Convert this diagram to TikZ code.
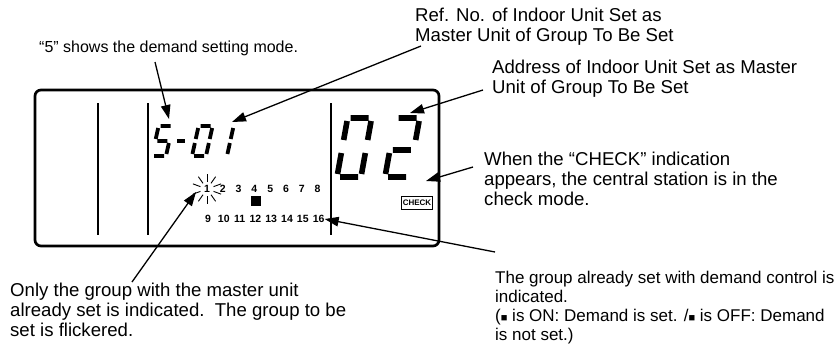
\documentclass[tikz,border=0pt]{standalone}
\usepackage{fontspec}
\setmainfont{Liberation Sans}
\usetikzlibrary{arrows.meta,positioning}
\tikzset{
    note/.style={anchor=north west,inner sep=0pt,align=left,font=\fontsize{18.6}{20}\selectfont},
    small note/.style={note,font=\fontsize{17}{19}\selectfont},
    callout/.style={line width=1.3pt,-{Triangle[length=14pt,width=9.5pt]}},
    lcd seg/.style={line width=3.8pt},
    lcd big/.style={line width=5.6pt},
    divider/.style={line width=1.1pt},
    grpnum/.style={inner sep=0pt,font=\bfseries\fontsize{10.5}{10.5}\selectfont},
    flick/.style={line width=0.9pt}
}

\begin{document}
\begin{tikzpicture}[x=1pt,y=-1pt]
        \useasboundingbox (0,0) rectangle (839,349);

        % notes round the display
        \node[note] (refnote) at (415,8) {Ref. No. of Indoor Unit Set as\\Master Unit of Group To Be Set};
        \node[note,font=\fontsize{16}{18}\selectfont] (modenote) at (39,41) {“5” shows the demand setting mode.};
        \node[note] (addrnote) at (492,60) {Address of Indoor Unit Set as Master\\Unit of Group To Be Set};
        \node[note] (checknote) at (484,152) {When the “CHECK” indication\\appears, the central station is in the\\check mode.};
        \node[small note] (grpnote) at (495,271) {The group already set with demand control is\\indicated.\\({\fontsize{11}{11}\selectfont ■} is ON: Demand is set. /{\fontsize{11}{11}\selectfont ■} is OFF: Demand\\is not set.)};
        \node[note] (flicknote) at (10,283) {Only the group with the master unit\\already set is indicated.\ \ The group to be\\set is flickered.};

        % display frame
        \draw[line width=2.7pt,rounded corners=6pt] (35,90) rectangle (439,246);
        \foreach \x in {98,148,331}
            \draw[divider] (\x,103) -- (\x,235);

        % 5-01
        \begin{scope}[shift={(152,156)},xslant=0.22,y=1pt]
            \draw[lcd seg] (2,30) -- (12,30) (0,28) -- (0,17) (2,15) -- (12,15) (14,13) -- (14,2) (2,0) -- (12,0);
        \end{scope}
        \begin{scope}[shift={(172,156)},xslant=0.22,y=1pt]
            \draw[lcd seg] (2,15) -- (10,15);
        \end{scope}
        \begin{scope}[shift={(192,156)},xslant=0.22,y=1pt]
            \draw[lcd seg] (2,30) -- (12,30) (14,28) -- (14,17) (14,13) -- (14,2)
                (2,0) -- (12,0) (0,13) -- (0,2) (0,28) -- (0,17);
        \end{scope}
        \begin{scope}[shift={(213,156)},xslant=0.22,y=1pt]
            \draw[lcd seg] (14,28) -- (14,17) (14,13) -- (14,2);
        \end{scope}

        % 02, upper and lower halves
        \begin{scope}[shift={(337,177)},xslant=0.18,y=1pt]
            \draw[lcd big] (0,37) -- (0,56) (3,59) -- (21,59) (24,56) -- (24,37)
                (0,24) -- (0,3) (3,0) -- (21,0) (24,24) -- (24,3);
        \end{scope}
        \begin{scope}[shift={(385,177)},xslant=0.18,y=1pt]
            \draw[lcd big] (3,59) -- (21,59) (24,56) -- (24,37)
                (3,27) -- (21,27) (0,24) -- (0,3) (3,0) -- (21,0);
        \end{scope}

        % group numbers
        \foreach \n [count=\i from 0] in {1,...,8}
            \node[grpnum] (g\n) at (207+15.8*\i,189) {\n};
        \foreach \n [count=\i from 0] in {9,...,16}
            \node[grpnum] (g\n) at (208+15.8*\i,219) {\n};
        \node[fill,minimum size=10pt,inner sep=0pt] (demandsq) at (256,201) {};
        \foreach \a in {20,55,90,125,160,200,235,270,305,340}
            \draw[flick] ([shift={(\a:7)}]g1.center) -- ([shift={(\a:15)}]g1.center);

        \node[draw,line width=0.5pt,inner sep=1.5pt,minimum height=13pt,
            font=\bfseries\fontsize{8}{8}\selectfont] (checkind) at (417,203) {CHECK};

        % arrows
        \coordinate (tailmode) at (155,62);
        \coordinate (tipmode) at (169,119);
        \coordinate (tailref) at (421,46);
        \coordinate (tipref) at (232,122);
        \coordinate (tailaddr) at (483,90);
        \coordinate (tipaddr) at (410,113);
        \coordinate (tailcheck) at (473,167);
        \coordinate (tipcheck) at (426,181);
        \coordinate (tailgrp) at (495,252);
        \coordinate (tailflick) at (132,282);
        \coordinate (tipflick) at (196,192);

        \draw[callout] (tailmode) -- (tipmode);
        \draw[callout] (tailref) -- (tipref);
        \draw[callout] (tailaddr) -- (tipaddr);
        \draw[callout] (tailcheck) -- (tipcheck);
        \draw[callout] (tailgrp) -- (g16.east);
        \draw[callout] (tailflick) -- (tipflick);
\end{tikzpicture}
\end{document}
